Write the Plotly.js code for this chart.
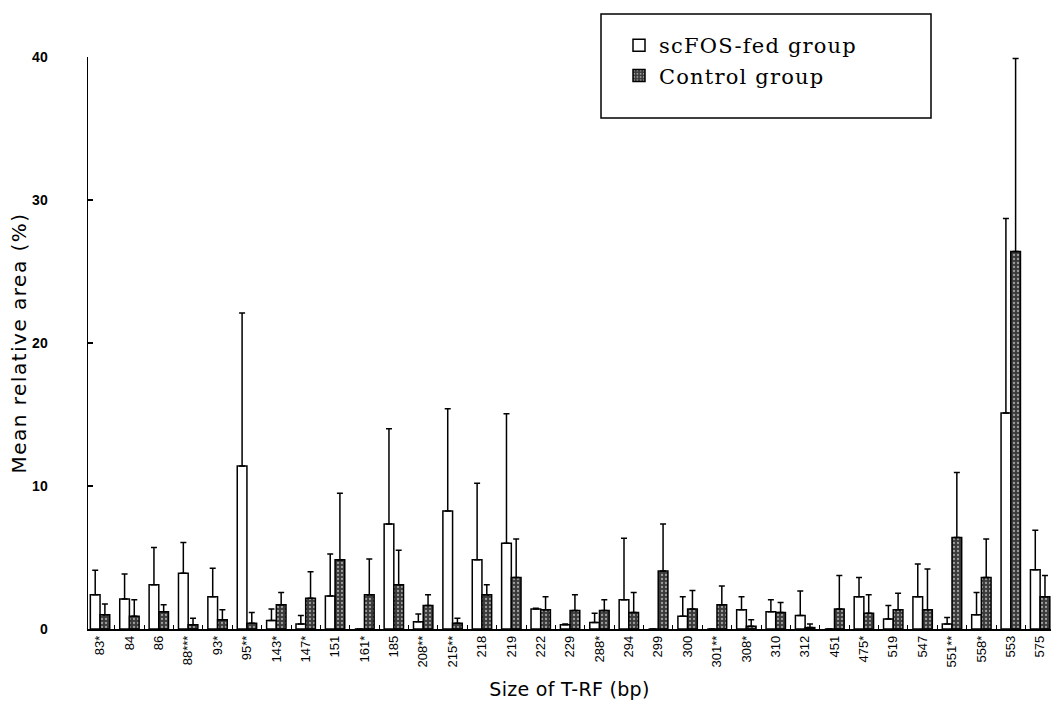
<!DOCTYPE html>
<html>
<head>
<meta charset="utf-8">
<script src="https://cdn.plot.ly/plotly-3.0.1.min.js"></script>
<style>
html,body{margin:0;padding:0;background:#fff;}
#chart{width:1051px;height:717px;}
.ytitle{letter-spacing:1.5px;}
.xtitle{letter-spacing:0.3px;}
.legendtext{letter-spacing:1.2px;}
</style>
</head>
<body>
<div id="chart"></div>
<script>
// T-RF size labels (as printed)
const categories = ["83*","84","86","88***","93*","95**","143*","147*","151","161*","185","208**","215**","218","219","222","229","288*","294","299","300","301**","308*","310","312","451","475*","519","547","551**","558*","553","575"];

// scFOS-fed group: mean and SD (%)
const scfosMean = [2.4,2.1,3.1,3.9,2.25,11.4,0.6,0.35,2.3,0,7.35,0.5,8.25,4.85,6.0,1.4,0.3,0.45,2.05,0,0.9,0,1.35,1.2,0.95,0,2.25,0.7,2.25,0.35,1.0,15.1,4.15];
const scfosSD   = [1.7,1.75,2.6,2.15,2.0,10.7,0.8,0.6,2.95,0,6.65,0.55,7.15,5.35,9.05,0.05,0.05,0.65,4.3,0,1.35,0,0.9,0.85,1.7,0,1.35,0.95,2.3,0.45,1.55,13.6,2.75];

// Control group: mean and SD (%)
const controlMean = [1.0,0.9,1.2,0.3,0.65,0.4,1.7,2.15,4.85,2.4,3.1,1.65,0.4,2.4,3.6,1.35,1.3,1.3,1.15,4.05,1.4,1.7,0.2,1.15,0.1,1.4,1.1,1.35,1.35,6.4,3.6,26.4,2.25];
const controlSD   = [0.75,1.15,0.5,0.45,0.7,0.75,0.85,1.85,4.65,2.5,2.4,0.75,0.35,0.7,2.7,0.9,1.1,0.75,1.4,3.3,1.3,1.3,0.45,0.7,0.25,2.35,1.3,1.15,2.85,4.55,2.7,13.5,1.5];

const seriesNames = ["scFOS-fed group","Control group"];
const yTicks = [0,10,20,30,40];

const zeros = categories.map(() => 0);

const traceScfos = {
  type: 'bar', name: seriesNames[0], x: categories, y: scfosMean,
  marker: {color: '#ffffff', line: {color: '#000', width: 1.5}},
  error_y: {type: 'data', symmetric: false, array: scfosSD, arrayminus: zeros, color: '#000', thickness: 1.5, width: 3}
};
const traceControl = {
  type: 'bar', name: seriesNames[1], x: categories, y: controlMean,
  marker: {color: '#3d3d3d', line: {color: '#000', width: 1.5},
           pattern: {shape: '.', fgcolor: '#a0a0a0', bgcolor: '#3a3a3a', size: 4, solidity: 0.25}},
  error_y: {type: 'data', symmetric: false, array: controlSD, arrayminus: zeros, color: '#000', thickness: 1.5, width: 3}
};

const layout = {
  width: 1051, height: 717,
  margin: {l: 88, r: 0, t: 57, b: 88},
  paper_bgcolor: '#fff', plot_bgcolor: '#fff',
  barmode: 'group', bargap: 0.34, bargroupgap: 0,
  font: {family: 'Liberation Sans, Arial, sans-serif', color: '#000'},
  showlegend: true,
  legend: {
    x: (619 - 88) / 963, y: (629 - 25) / 572, xanchor: 'left', yanchor: 'top',
    bgcolor: 'rgba(0,0,0,0)', borderwidth: 0,
    font: {family: 'DejaVu Serif, Liberation Serif, serif', size: 21, color: '#000'},
    itemwidth: 30, tracegroupgap: 0
  },
  shapes: [{
    type: 'rect', xref: 'paper', yref: 'paper',
    x0: (601 - 88) / 963, x1: (931 - 88) / 963,
    y0: (629 - 118) / 572, y1: (629 - 14) / 572,
    line: {color: '#000', width: 1.5}, fillcolor: 'rgba(0,0,0,0)'
  }],
  xaxis: {
    type: 'category', range: [-0.41, 32.37],
    showline: true, linecolor: '#000', linewidth: 1.5,
    ticks: 'inside', tickson: 'boundaries', ticklen: 4, tickcolor: '#000', tickwidth: 1,
    tickangle: -90, tickfont: {size: 13, family: 'Liberation Sans, Arial, sans-serif'},
    showgrid: false, zeroline: false, automargin: false,
    title: {text: 'Size of T-RF (bp)', font: {size: 19, family: 'DejaVu Sans, sans-serif'}, standoff: 16}
  },
  yaxis: {
    range: [0, 40], tickvals: yTicks, ticktext: yTicks.map(String),
    showline: true, linecolor: '#000', linewidth: 1.5,
    ticks: 'inside', ticklen: 5, tickcolor: '#000', tickwidth: 1.5,
    tickfont: {size: 14, family: 'Liberation Sans, Arial, sans-serif', weight: 'bold'},
    ticklabelstandoff: 36,
    showgrid: false, zeroline: false, automargin: false,
    title: {text: 'Mean relative area (%)', font: {size: 20, family: 'DejaVu Sans, sans-serif'}, standoff: 0}
  }
};

Plotly.newPlot('chart', [traceScfos, traceControl], layout, {displayModeBar: false, staticPlot: true});
</script>
</body>
</html>
